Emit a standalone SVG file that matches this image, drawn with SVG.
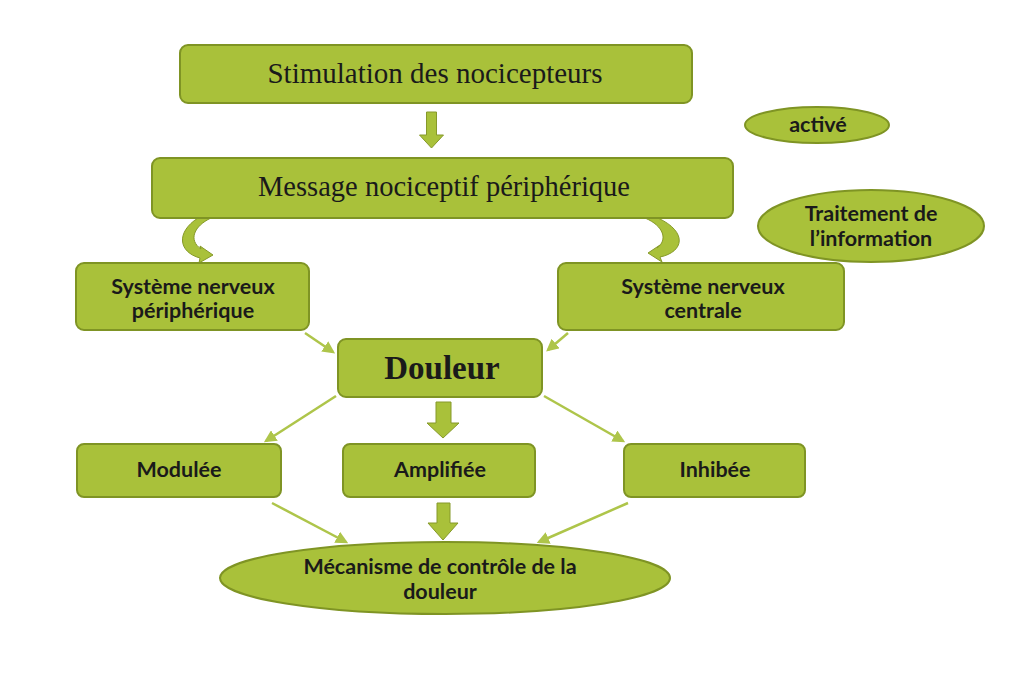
<svg xmlns="http://www.w3.org/2000/svg" width="1024" height="683" viewBox="0 0 1024 683">
<style>
.box{fill:#a9c13a;stroke:#7f9424;stroke-width:2}
.serif{font-family:"Liberation Serif","Times New Roman",serif;fill:#1a1a1a;text-anchor:middle}
.sans{font-family:Lato,"Open Sans","Liberation Sans",sans-serif;font-weight:bold;fill:#1a1a1a;text-anchor:middle;font-size:21.5px}
.blk{fill:#a9c13a;stroke:#86992a;stroke-width:1}
.thin{stroke:#aec54a;stroke-width:2.5;fill:none}
</style>
<defs>
<marker id="ah" viewBox="0 0 10 10" refX="8" refY="5" markerWidth="5" markerHeight="5" orient="auto" markerUnits="strokeWidth">
<path d="M0 0 L10 5 L0 10 Z" fill="#aec54a"/>
</marker>
</defs>
<rect width="1024" height="683" fill="#ffffff"/>

<g id="connectors">
<path class="blk" d="M426.5 112 H436.5 V135 H443.5 L431.5 148 L419.5 135 H426.5 Z"/>
<path class="blk" d="M436 402 H451 V423 H459 L443 438 L427 423 H436 Z"/>
<path class="blk" d="M437 503 H450 V523 H458 L443 540 L428 523 H437 Z"/>
<path class="blk" d="M198 218 L211 218 C194 226 188 240 201 249 L200 246 L213 255 L199 263 L200 258 C178 252 176 232 198 218 Z"/>
<path class="blk" d="M658 218 L645 218 C664 226 668 240 657 248 L660 245 L648 253 L662 262 L660 257 C684 252 688 232 658 218 Z"/>
<line class="thin" x1="305" y1="333" x2="333" y2="352" marker-end="url(#ah)"/>
<line class="thin" x1="568" y1="333" x2="548" y2="350" marker-end="url(#ah)"/>
<line class="thin" x1="336" y1="396" x2="266" y2="441" marker-end="url(#ah)"/>
<line class="thin" x1="544" y1="396" x2="623" y2="441" marker-end="url(#ah)"/>
<line class="thin" x1="272" y1="503" x2="346" y2="542" marker-end="url(#ah)"/>
<line class="thin" x1="628" y1="503" x2="539" y2="542" marker-end="url(#ah)"/>
</g>

<g id="stimulation">
<rect class="box" x="180" y="45" width="512" height="58" rx="8"/>
<text class="serif" x="435" y="83" font-size="29">Stimulation des nocicepteurs</text>
</g>
<g id="message">
<rect class="box" x="152" y="158" width="581" height="60" rx="8"/>
<text class="serif" x="444" y="196" font-size="28.5">Message nociceptif périphérique</text>
</g>
<g id="active">
<ellipse class="box" cx="817" cy="125" rx="72" ry="18"/>
<text class="sans" x="818" y="132" font-size="20.5">activé</text>
</g>
<g id="traitement">
<ellipse class="box" cx="871" cy="226" rx="113" ry="36"/>
<text class="sans" x="871" y="221">Traitement de</text>
<text class="sans" x="871" y="246">l’information</text>
</g>
<g id="snp">
<rect class="box" x="76" y="263" width="233" height="67" rx="8"/>
<text class="sans" x="193" y="294" font-size="20">Système nerveux</text>
<text class="sans" x="193" y="318" font-size="20">périphérique</text>
</g>
<g id="snc">
<rect class="box" x="558" y="263" width="286" height="67" rx="8"/>
<text class="sans" x="703" y="294" font-size="20">Système nerveux</text>
<text class="sans" x="703" y="318" font-size="20">centrale</text>
</g>
<g id="douleur">
<rect class="box" x="338" y="339" width="204" height="58" rx="8"/>
<text class="serif" x="442" y="379" font-size="33" font-weight="bold">Douleur</text>
</g>
<g id="modulee">
<rect class="box" x="77" y="444" width="204" height="53" rx="7"/>
<text class="sans" x="179" y="477">Modulée</text>
</g>
<g id="amplifiee">
<rect class="box" x="343" y="444" width="192" height="53" rx="7"/>
<text class="sans" x="440" y="477">Amplifiée</text>
</g>
<g id="inhibee">
<rect class="box" x="624" y="444" width="181" height="53" rx="7"/>
<text class="sans" x="715" y="477">Inhibée</text>
</g>
<g id="mecanisme">
<ellipse class="box" cx="445" cy="578" rx="225" ry="36"/>
<text class="sans" x="440" y="574">Mécanisme de contrôle de la</text>
<text class="sans" x="440" y="599">douleur</text>
</g>
</svg>
